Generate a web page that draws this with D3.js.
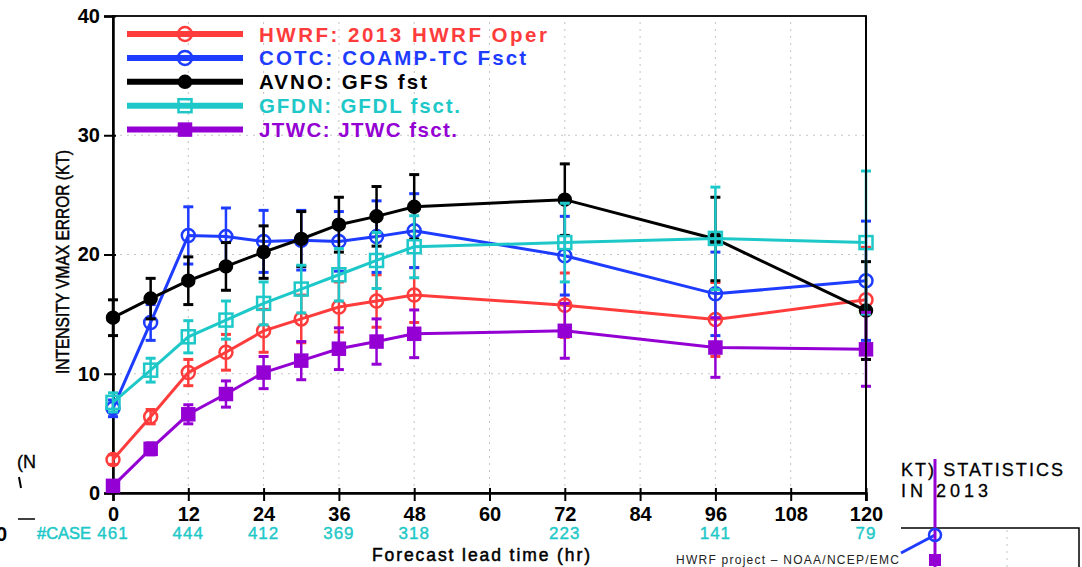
<!DOCTYPE html>
<html>
<head>
<meta charset="utf-8">
<script src="https://cdn.jsdelivr.net/npm/d3@7/dist/d3.min.js"></script>
<style>
  html, body { margin: 0; padding: 0; background: #fff; overflow: hidden; }
  svg { display: block; font-family: "Liberation Sans", Arial, sans-serif; }
</style>
</head>
<body>
<div id="chart"></div>
<script>
// lead times (hr) and case counts
var leadTimes = [0, 6, 12, 18, 24, 30, 36, 42, 48, 72, 96, 120];
var caseHours = [0, 12, 24, 36, 48, 72, 96, 120];
var caseCounts = [461, 444, 412, 369, 318, 223, 141, 79];
var xTicks = [0, 12, 24, 36, 48, 60, 72, 84, 96, 108, 120];
var yTicks = [0, 10, 20, 30, 40];

// mean intensity error (kt) and error bar half-widths
var hwrf    = [2.8, 6.4, 10.1, 11.8, 13.6, 14.6, 15.6, 16.1, 16.6, 15.75, 14.55, 16.2];
var hwrfErr = [0.4, 0.6, 1.1, 1.5, 1.8, 2.0, 2.1, 2.2, 2.3, 2.7, 3.1, 4.4];
var cotc    = [7.1, 14.3, 21.6, 21.5, 21.1, 21.2, 21.1, 21.5, 22.0, 19.9, 16.7, 17.8];
var cotcErr = [0.7, 1.5, 2.4, 2.4, 2.6, 2.5, 2.5, 3.0, 3.1, 3.3, 3.5, 5.0];
var avno    = [14.7, 16.3, 17.8, 19.0, 20.2, 21.3, 22.5, 23.2, 24.0, 24.6, 21.3, 15.3];
var avnoErr = [1.5, 1.7, 2.0, 2.0, 2.2, 2.3, 2.3, 2.5, 2.7, 3.0, 3.5, 4.1];
var gfdn    = [7.6, 10.3, 13.1, 14.5, 15.9, 17.1, 18.3, 19.5, 20.65, 21.0, 21.35, 21.0];
var gfdnErr = [0.8, 1.0, 1.35, 1.6, 1.8, 2.0, 2.2, 2.35, 2.6, 3.3, 4.3, 6.0];
var jtwc    = [0.6, 3.7, 6.6, 8.3, 10.1, 11.1, 12.1, 12.7, 13.35, 13.6, 12.2, 12.05];
var jtwcErr = [0.4, 0.5, 0.8, 1.1, 1.35, 1.6, 1.75, 1.9, 2.0, 2.3, 2.5, 3.1];

var seriesNames = ["HWRF: 2013 HWRF Oper", "COTC: COAMP-TC Fsct", "AVNO: GFS fst", "GFDN: GFDL fsct.", "JTWC: JTWC fsct."];

var series = [
  {name: seriesNames[0], vals: hwrf, err: hwrfErr, color: "#ff3c3c", marker: "circle", fill: false, tl: 288},
  {name: seriesNames[1], vals: cotc, err: cotcErr, color: "#1e3cff", marker: "circle", fill: false, tl: 267},
  {name: seriesNames[2], vals: avno, err: avnoErr, color: "#000000", marker: "circle", fill: true, tl: 168},
  {name: seriesNames[3], vals: gfdn, err: gfdnErr, color: "#1ec8c8", marker: "square", fill: false, tl: 201},
  {name: seriesNames[4], vals: jtwc, err: jtwcErr, color: "#9400d3", marker: "square", fill: true, tl: 198}
];

var W = 1082, H = 567;
var svg = d3.select("#chart").append("svg")
    .attr("width", W)
    .attr("height", H);

var x = d3.scaleLinear().domain([0, 120]).range([113, 866]);
var y = d3.scaleLinear().domain([0, 40]).range([493, 16]);

// dotted grid
svg.append("g").selectAll("line")
    .data(xTicks.slice(1, -1))
  .enter().append("line")
    .attr("x1", function(d) { return x(d); })
    .attr("x2", function(d) { return x(d); })
    .attr("y1", y(0)).attr("y2", y(40))
    .attr("stroke", "#c4c4c4").attr("stroke-width", 1)
    .attr("stroke-dasharray", "2,5");
svg.append("g").selectAll("line")
    .data(yTicks.slice(1, -1))
  .enter().append("line")
    .attr("x1", x(0)).attr("x2", x(120))
    .attr("y1", function(d) { return y(d); })
    .attr("y2", function(d) { return y(d); })
    .attr("stroke", "#c4c4c4").attr("stroke-width", 1)
    .attr("stroke-dasharray", "2,5");

// frame
svg.append("rect")
    .attr("x", x(0)).attr("y", y(40))
    .attr("width", x(120) - x(0)).attr("height", y(0) - y(40))
    .attr("fill", "none").attr("stroke", "#000").attr("stroke-width", 1.8);

// axes
var xAxis = svg.append("g")
    .attr("transform", "translate(0," + y(0) + ")")
    .call(d3.axisBottom(x).tickValues(xTicks).tickSize(8).tickPadding(6));
xAxis.select(".domain").attr("stroke-width", 2.5);
xAxis.selectAll(".tick line").attr("y1", -5).attr("stroke-width", 2);
xAxis.selectAll(".tick text")
    .attr("font-size", "20px").attr("font-weight", "bold")
    .attr("font-family", "Liberation Sans, Arial, sans-serif").attr("fill", "#000");

var yAxis = svg.append("g")
    .attr("transform", "translate(" + x(0) + ",0)")
    .call(d3.axisLeft(y).tickValues(yTicks).tickSize(9).tickPadding(4));
yAxis.select(".domain").attr("stroke-width", 2.5);
yAxis.selectAll(".tick line").attr("x1", 3).attr("stroke-width", 2);
yAxis.selectAll(".tick text")
    .attr("font-size", "20px").attr("font-weight", "bold")
    .attr("font-family", "Liberation Sans, Arial, sans-serif").attr("fill", "#000");

// case counts
svg.append("g").selectAll("text")
    .data(caseCounts)
  .enter().append("text")
    .attr("x", function(d, i) { return x(caseHours[i]); })
    .attr("y", 539)
    .attr("text-anchor", "middle")
    .attr("font-size", "17px")
    .attr("letter-spacing", "1px")
    .attr("fill", "#1ec8c8").attr("stroke", "#1ec8c8").attr("stroke-width", 0.4)
    .text(function(d) { return d; });
svg.append("text")
    .attr("x", 91).attr("y", 539)
    .attr("text-anchor", "end")
    .attr("font-size", "16px")
    .attr("textLength", 54).attr("lengthAdjust", "spacingAndGlyphs")
    .attr("fill", "#1ec8c8").attr("stroke", "#1ec8c8").attr("stroke-width", 0.5)
    .text("#CASE");

// axis titles
svg.append("text")
    .attr("x", 372).attr("y", 561)
    .attr("font-size", "17.5px")
    .attr("textLength", 218).attr("lengthAdjust", "spacing")
    .attr("stroke", "#000").attr("stroke-width", 0.5)
    .text("Forecast lead time (hr)");
svg.append("text")
    .attr("transform", "translate(69,262) rotate(-90)")
    .attr("text-anchor", "middle")
    .attr("font-size", "19px")
    .attr("textLength", 224).attr("lengthAdjust", "spacingAndGlyphs")
    .attr("stroke", "#000").attr("stroke-width", 0.5)
    .text("INTENSITY VMAX ERROR (KT)");
svg.append("text")
    .attr("x", 676).attr("y", 564)
    .attr("font-size", "12px")
    .attr("textLength", 223).attr("lengthAdjust", "spacing")
    .attr("fill", "#222")
    .text("HWRF project \u2013 NOAA/NCEP/EMC");

function drawMarker(g, s, cx, cy, big) {
  var r = big ? 7 : 6.5;
  if (s.marker === "circle") {
    g.append("circle")
      .attr("cx", cx).attr("cy", cy).attr("r", s.fill ? 6 : r)
      .attr("fill", s.fill ? s.color : "none")
      .attr("stroke", s.color).attr("stroke-width", 2.5);
  } else {
    var h = s.fill ? 6 : 6.5;
    g.append("rect")
      .attr("x", cx - h).attr("y", cy - h)
      .attr("width", 2 * h).attr("height", 2 * h)
      .attr("fill", s.fill ? s.color : "none")
      .attr("stroke", s.color).attr("stroke-width", 2.5);
  }
}

var line = d3.line()
    .x(function(d, i) { return x(leadTimes[i]); })
    .y(function(d) { return y(d); });

series.forEach(function(s) {
  var g = svg.append("g");
  // error bars
  s.vals.forEach(function(v, i) {
    var cx = x(leadTimes[i]);
    var lo = y(v - s.err[i]), hi = y(v + s.err[i]);
    g.append("line").attr("x1", cx).attr("x2", cx).attr("y1", lo).attr("y2", hi)
      .attr("stroke", s.color).attr("stroke-width", 2.5);
    [lo, hi].forEach(function(yy) {
      g.append("line").attr("x1", cx - 5).attr("x2", cx + 5).attr("y1", yy).attr("y2", yy)
        .attr("stroke", s.color).attr("stroke-width", 3);
    });
  });
  g.append("path")
    .datum(s.vals)
    .attr("d", line)
    .attr("fill", "none")
    .attr("stroke", s.color)
    .attr("stroke-width", 3);
  s.vals.forEach(function(v, i) {
    drawMarker(g, s, x(leadTimes[i]), y(v), false);
  });
});

// right frame edge sits over the marks at 120 h
svg.append("line")
    .attr("x1", x(120)).attr("x2", x(120)).attr("y1", y(40)).attr("y2", y(0) + 8)
    .attr("stroke", "#000").attr("stroke-width", 1.8);

// legend
var legend = svg.append("g");
series.forEach(function(s, i) {
  var cy = 34 + i * 23.9;
  legend.append("line")
    .attr("x1", 127).attr("x2", 243).attr("y1", cy).attr("y2", cy)
    .attr("stroke", s.color).attr("stroke-width", 6);
  drawMarker(legend, s, 185, cy, true);
  legend.append("text")
    .attr("x", 259).attr("y", cy + 7.5)
    .attr("font-size", "20.5px").attr("font-weight", "bold")
    .attr("textLength", s.tl).attr("lengthAdjust", "spacing")
    .attr("fill", s.color)
    .text(s.name);
});

// fragments of a neighbouring panel that overlap the picture
var frag = svg.append("g");
frag.append("text").attr("x", 901).attr("y", 476)
    .attr("font-size", "18px").attr("textLength", 162).attr("lengthAdjust", "spacing")
    .attr("stroke", "#000").attr("stroke-width", 0.3)
    .text("KT)  STATISTICS");
frag.append("text").attr("x", 901).attr("y", 497)
    .attr("font-size", "18px").attr("textLength", 87).attr("lengthAdjust", "spacing")
    .attr("stroke", "#000").attr("stroke-width", 0.3)
    .text("IN  2013");
frag.append("path").attr("d", "M901,528H1079V567")
    .attr("fill", "none").attr("stroke", "#000").attr("stroke-width", 1.5);
frag.append("line").attr("x1", 1007).attr("x2", 1007).attr("y1", 530).attr("y2", 567)
    .attr("stroke", "#c4c4c4").attr("stroke-dasharray", "2,5");
frag.append("line").attr("x1", 901).attr("y1", 553).attr("x2", 935).attr("y2", 535)
    .attr("stroke", "#1e3cff").attr("stroke-width", 3);
frag.append("line").attr("x1", 935).attr("x2", 935).attr("y1", 459).attr("y2", 567)
    .attr("stroke", "#9400d3").attr("stroke-width", 3);
frag.append("circle").attr("cx", 935).attr("cy", 535).attr("r", 6)
    .attr("fill", "none").attr("stroke", "#1e3cff").attr("stroke-width", 2.5);
frag.append("rect").attr("x", 929).attr("y", 554).attr("width", 12).attr("height", 12)
    .attr("fill", "#9400d3");
frag.append("text").attr("x", -4).attr("y", 541)
    .attr("font-size", "20px").attr("font-weight", "bold").text("0");
frag.append("line").attr("x1", 18).attr("x2", 35).attr("y1", 519).attr("y2", 519)
    .attr("stroke", "#000").attr("stroke-width", 1.5);
frag.append("text").attr("x", 17).attr("y", 468)
    .attr("font-size", "18px").attr("stroke", "#000").attr("stroke-width", 0.3).text("(N");
frag.append("line").attr("x1", 19).attr("x2", 21).attr("y1", 477).attr("y2", 488)
    .attr("stroke", "#000").attr("stroke-width", 2);
</script>
</body>
</html>
